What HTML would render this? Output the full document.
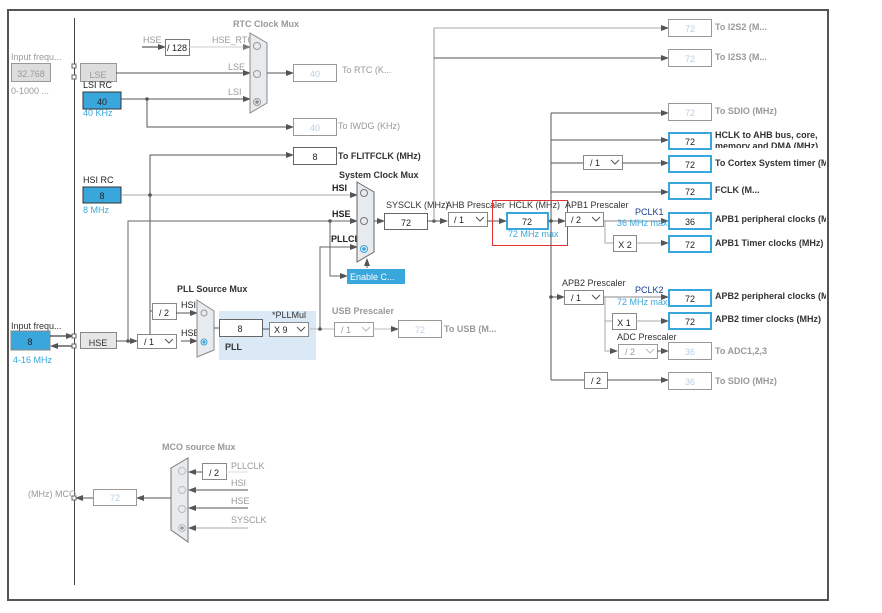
<!DOCTYPE html>
<html><head><meta charset="utf-8"><style>
html,body{margin:0;padding:0;background:#fff;}
svg{display:block;font-family:"Liberation Sans",sans-serif;}
.g{fill:#999;}
.dk{fill:#333;}
.b{fill:#222;}
.bl{fill:#3aa7dc;}
text{font-size:9px;}
</style></head><body>
<svg width="882" height="613" viewBox="0 0 882 613" xmlns="http://www.w3.org/2000/svg">
<defs>
<marker id="a" markerWidth="8" markerHeight="8" refX="7" refY="4" orient="auto" markerUnits="userSpaceOnUse"><path d="M0,1 L8,4 L0,7z" fill="#555"/></marker>
<marker id="al" markerWidth="8" markerHeight="8" refX="7" refY="4" orient="auto" markerUnits="userSpaceOnUse"><path d="M0,1 L8,4 L0,7z" fill="#777"/></marker>
<clipPath id="c"><rect x="0" y="0" width="826" height="613"/></clipPath>
</defs>
<rect x="0" y="0" width="882" height="613" fill="#fff"/>
<g clip-path="url(#c)">
<!-- left bus -->
<line x1="74.5" y1="18" x2="74.5" y2="585" stroke="#444" stroke-width="1"/>

<!-- LSE section -->
<text x="11" y="60" class="g">Input frequ...</text>
<rect x="11.5" y="63.5" width="39" height="18" fill="#ddd" stroke="#999"/>
<text x="31" y="77" class="g" text-anchor="middle" font-size="11">32.768</text>
<text x="11" y="94" class="g" font-size="8">0-1000 ...</text>
<rect x="72" y="64" width="4" height="4" fill="#fff" stroke="#666"/>
<rect x="72" y="75" width="4" height="4" fill="#fff" stroke="#666"/>
<rect x="80.5" y="63.5" width="36" height="18" fill="#ddd" stroke="#999"/>
<text x="98" y="78" class="g" text-anchor="middle" font-size="13">LSE</text>
<text x="83" y="88" class="b" font-size="10">LSI RC</text>
<rect x="83" y="92" width="38" height="17" fill="#3aa7dc" stroke="#333"/>
<text x="102" y="105" class="b" text-anchor="middle" font-size="11">40</text>
<text x="83" y="116" class="bl" font-size="9">40 KHz</text>

<!-- RTC -->
<text x="233" y="27" class="g" font-weight="bold">RTC Clock Mux</text>
<text x="143" y="43" class="g">HSE</text>
<line x1="142" y1="47" x2="165" y2="47" stroke="#333" marker-end="url(#a)"/>
<rect x="165.5" y="39.5" width="24" height="16" fill="#fff" stroke="#777"/>
<text x="177" y="51" class="b" text-anchor="middle" font-size="10">/ 128</text>
<text x="212" y="43" class="g">HSE_RTC</text>
<line x1="189" y1="47" x2="250" y2="47" stroke="#ccc" marker-end="url(#al)"/>
<text x="228" y="70" class="g">LSE</text>
<line x1="116" y1="73" x2="250" y2="73" stroke="#555" marker-end="url(#a)"/>
<text x="228" y="95" class="g">LSI</text>
<line x1="121" y1="99" x2="250" y2="99" stroke="#555" marker-end="url(#a)"/>
<circle cx="147" cy="99" r="1.8" fill="#555"/>
<polyline points="147,99 147,127 293,127" fill="none" stroke="#555" marker-end="url(#a)"/>
<polygon points="250,33 267,43 267,103 250,113" fill="#e8ebee" stroke="#888"/>
<circle cx="257" cy="46" r="3.5" fill="none" stroke="#999"/>
<circle cx="257" cy="74" r="3.5" fill="none" stroke="#999"/>
<circle cx="257" cy="102" r="3.5" fill="none" stroke="#999"/><circle cx="257" cy="102" r="1.8" fill="#888"/>
<line x1="267" y1="73" x2="293" y2="73" stroke="#555" marker-end="url(#a)"/>
<rect x="293.5" y="64.5" width="43" height="17" fill="#fff" stroke="#999"/>
<text x="315" y="77" fill="#b8cfe3" text-anchor="middle" font-size="11">40</text>
<text x="342" y="73" class="g">To RTC (K...</text>
<rect x="293.5" y="118.5" width="43" height="17" fill="#fff" stroke="#999"/>
<text x="315" y="131" fill="#b8cfe3" text-anchor="middle" font-size="11">40</text>
<text x="338" y="129" class="g">To IWDG (KHz)</text>

<!-- FLITF -->
<polyline points="150,345 150,155 293,155" fill="none" stroke="#555" marker-end="url(#a)"/>
<rect x="293.5" y="147.5" width="43" height="17" fill="#fff" stroke="#666"/>
<text x="315" y="160" class="b" text-anchor="middle" font-size="11">8</text>
<text x="338" y="159" class="dk" font-weight="bold">To FLITFCLK (MHz)</text>

<!-- HSI -->
<text x="83" y="183" class="b" font-size="10">HSI RC</text>
<rect x="83" y="187" width="38" height="16" fill="#3aa7dc" stroke="#333"/>
<text x="102" y="199" class="b" text-anchor="middle" font-size="11">8</text>
<text x="83" y="213" class="bl">8 MHz</text>
<line x1="121" y1="195" x2="357" y2="195" stroke="#aaa" marker-end="url(#a)"/>
<circle cx="150" cy="195" r="1.8" fill="#555"/>
<text x="332" y="191" class="b" font-weight="bold">HSI</text>

<!-- HSE line to sysmux -->
<polyline points="128,341 128,221 357,221" fill="none" stroke="#666" marker-end="url(#a)"/>
<circle cx="330" cy="221" r="1.8" fill="#555"/>
<text x="332" y="217" class="b" font-weight="bold">HSE</text>
<polyline points="320,329 320,247 357,247" fill="none" stroke="#666" marker-end="url(#a)"/>
<text x="331" y="242" class="b" font-weight="bold">PLLCLK</text>
<polyline points="330,221 330,276 347,276" fill="none" stroke="#666" marker-end="url(#a)"/>
<rect x="347" y="269" width="58" height="15" fill="#3aa7dc"/>
<text x="350" y="280" fill="#fff" font-size="10">Enable C...</text>
<line x1="367" y1="268" x2="367" y2="259" stroke="#666" marker-end="url(#a)"/>
<text x="339" y="178" class="dk" font-weight="bold">System Clock Mux</text>
<polygon points="357,182 374,192 374,252 357,262" fill="#e8ebee" stroke="#666"/>
<circle cx="364" cy="193" r="3.5" fill="none" stroke="#777"/>
<circle cx="364" cy="221" r="3.5" fill="none" stroke="#777"/>
<circle cx="364" cy="249" r="3.5" fill="none" stroke="#3aa7dc"/><circle cx="364" cy="249" r="1.8" fill="#3aa7dc"/>
<line x1="374" y1="221" x2="384" y2="221" stroke="#555" marker-end="url(#a)"/>
<text x="386" y="208" class="dk">SYSCLK (MHz)</text>
<rect x="384.5" y="213.5" width="43" height="16" fill="#fff" stroke="#666"/>
<text x="406" y="226" class="b" text-anchor="middle" font-size="11">72</text>

<!-- I2S -->
<line x1="427" y1="221" x2="447" y2="221" stroke="#555" marker-end="url(#a)"/>
<circle cx="434" cy="221" r="1.8" fill="#555"/>
<line x1="434" y1="221" x2="434" y2="28" stroke="#999"/>
<line x1="434" y1="28" x2="668" y2="28" stroke="#aaa" marker-end="url(#a)"/>
<line x1="434" y1="58" x2="668" y2="58" stroke="#555" marker-end="url(#a)"/>
<rect x="668.5" y="19.5" width="43" height="17" fill="#fff" stroke="#999"/>
<text x="690" y="32" fill="#b8cfe3" text-anchor="middle" font-size="11">72</text>
<text x="715" y="30" class="g" font-weight="bold">To I2S2 (M...</text>
<rect x="668.5" y="49.5" width="43" height="17" fill="#fff" stroke="#999"/>
<text x="690" y="62" fill="#b8cfe3" text-anchor="middle" font-size="11">72</text>
<text x="715" y="60" class="g" font-weight="bold">To I2S3 (M...</text>

<!-- AHB -->
<text x="446" y="208" class="dk">AHB Prescaler</text>
<rect x="448.5" y="212.5" width="39" height="14" fill="#fff" stroke="#888"/>
<text x="454" y="223" class="b" font-size="10">/ 1</text>
<polyline points="476,217 480,221 484,217" fill="none" stroke="#555"/>
<line x1="487" y1="221" x2="506" y2="221" stroke="#555" marker-end="url(#a)"/>
<text x="509" y="208" class="dk">HCLK (MHz)</text>
<rect x="507" y="213" width="41" height="16" fill="#fff" stroke="#3aa7dc" stroke-width="2"/>
<text x="527" y="225" class="b" text-anchor="middle" font-size="11">72</text>
<text x="508" y="237" class="bl">72 MHz max</text>
<rect x="492.5" y="200.5" width="75" height="45" fill="none" stroke="#e03030"/>

<!-- HCLK bus -->
<line x1="548" y1="221" x2="565" y2="221" stroke="#555" marker-end="url(#a)"/>
<circle cx="551" cy="221" r="1.8" fill="#555"/>
<line x1="551" y1="113" x2="551" y2="380" stroke="#555"/>
<line x1="551" y1="113" x2="668" y2="113" stroke="#555" marker-end="url(#a)"/>
<line x1="551" y1="140" x2="668" y2="140" stroke="#555" marker-end="url(#a)"/>
<line x1="551" y1="163" x2="583" y2="163" stroke="#555"/>
<rect x="583.5" y="155.5" width="39" height="14" fill="#fff" stroke="#888"/>
<text x="590" y="166" class="b" font-size="10">/ 1</text>
<polyline points="611,160 615,164 619,160" fill="none" stroke="#555"/>
<line x1="622" y1="163" x2="668" y2="163" stroke="#555" marker-end="url(#a)"/>
<line x1="551" y1="192" x2="668" y2="192" stroke="#555" marker-end="url(#a)"/>
<rect x="668.5" y="103.5" width="43" height="17" fill="#fff" stroke="#999"/>
<text x="690" y="116" fill="#b8cfe3" text-anchor="middle" font-size="11">72</text>
<text x="715" y="114" class="g" font-weight="bold">To SDIO (MHz)</text>
<rect x="669" y="133" width="42" height="16" fill="#fff" stroke="#3aa7dc" stroke-width="2"/>
<text x="690" y="145" class="b" text-anchor="middle" font-size="11">72</text>
<svg x="715" y="128" width="115" height="20" overflow="hidden"><text x="0" y="10" class="dk" font-weight="bold">HCLK to AHB bus, core,</text><text x="0" y="21" class="dk" font-weight="bold">memory and DMA (MHz)</text></svg>
<rect x="669" y="156" width="42" height="16" fill="#fff" stroke="#3aa7dc" stroke-width="2"/>
<text x="690" y="168" class="b" text-anchor="middle" font-size="11">72</text>
<text x="715" y="166" class="dk" font-weight="bold">To Cortex System timer (MHz)</text>
<rect x="669" y="183" width="42" height="16" fill="#fff" stroke="#3aa7dc" stroke-width="2"/>
<text x="690" y="195" class="b" text-anchor="middle" font-size="11">72</text>
<text x="715" y="193" class="dk" font-weight="bold">FCLK (M...</text>

<!-- APB1 -->
<text x="565" y="208" class="dk">APB1 Prescaler</text>
<rect x="565.5" y="212.5" width="38" height="14" fill="#fff" stroke="#888"/>
<text x="571" y="223" class="b" font-size="10">/ 2</text>
<polyline points="592,217 596,221 600,217" fill="none" stroke="#555"/>
<line x1="603" y1="221" x2="668" y2="221" stroke="#888" marker-end="url(#a)"/>
<text x="635" y="215" fill="#1a3d8f" font-size="9">PCLK1</text>
<text x="617" y="226" class="bl">36 MHz max</text>
<polyline points="605,221 605,243 613,243" fill="none" stroke="#aaa"/>
<rect x="613.5" y="235.5" width="23" height="16" fill="#fff" stroke="#888"/>
<text x="625" y="248" class="b" text-anchor="middle" font-size="10">X 2</text>
<line x1="636" y1="243" x2="668" y2="243" stroke="#aaa" marker-end="url(#a)"/>
<rect x="669" y="213" width="42" height="16" fill="#fff" stroke="#3aa7dc" stroke-width="2"/>
<text x="690" y="225" class="b" text-anchor="middle" font-size="11">36</text>
<text x="715" y="222" class="dk" font-weight="bold">APB1 peripheral clocks (MHz)</text>
<rect x="669" y="236" width="42" height="16" fill="#fff" stroke="#3aa7dc" stroke-width="2"/>
<text x="690" y="248" class="b" text-anchor="middle" font-size="11">72</text>
<text x="715" y="246" class="dk" font-weight="bold">APB1 Timer clocks (MHz)</text>

<!-- APB2 -->
<circle cx="551" cy="297" r="1.8" fill="#555"/>
<line x1="551" y1="297" x2="564" y2="297" stroke="#555" marker-end="url(#a)"/>
<text x="562" y="286" class="dk">APB2 Prescaler</text>
<rect x="564.5" y="290.5" width="39" height="14" fill="#fff" stroke="#888"/>
<text x="571" y="301" class="b" font-size="10">/ 1</text>
<polyline points="592,295 596,299 600,295" fill="none" stroke="#555"/>
<line x1="603" y1="297" x2="668" y2="297" stroke="#888" marker-end="url(#a)"/>
<text x="635" y="293" fill="#1a3d8f" font-size="9">PCLK2</text>
<text x="617" y="305" class="bl">72 MHz max</text>
<rect x="669" y="290" width="42" height="16" fill="#fff" stroke="#3aa7dc" stroke-width="2"/>
<text x="690" y="302" class="b" text-anchor="middle" font-size="11">72</text>
<text x="715" y="299" class="dk" font-weight="bold">APB2 peripheral clocks (MHz)</text>
<polyline points="605,297 605,351 617,351" fill="none" stroke="#aaa" marker-end="url(#a)"/>
<line x1="605" y1="321" x2="612" y2="321" stroke="#aaa"/>
<rect x="612.5" y="313.5" width="24" height="16" fill="#fff" stroke="#888"/>
<text x="624" y="326" class="b" text-anchor="middle" font-size="10">X 1</text>
<line x1="636" y1="321" x2="668" y2="321" stroke="#aaa" marker-end="url(#a)"/>
<rect x="669" y="313" width="42" height="16" fill="#fff" stroke="#3aa7dc" stroke-width="2"/>
<text x="690" y="325" class="b" text-anchor="middle" font-size="11">72</text>
<text x="715" y="322" class="dk" font-weight="bold">APB2 timer clocks (MHz)</text>
<text x="617" y="340" class="dk">ADC Prescaler</text>
<rect x="618.5" y="344.5" width="39" height="14" fill="#fff" stroke="#999"/>
<text x="625" y="355" class="g" font-size="10">/ 2</text>
<polyline points="646,349 650,353 654,349" fill="none" stroke="#bbb"/>
<line x1="657" y1="351" x2="668" y2="351" stroke="#555" marker-end="url(#a)"/>
<rect x="668.5" y="342.5" width="43" height="17" fill="#fff" stroke="#999"/>
<text x="690" y="355" fill="#b8cfe3" text-anchor="middle" font-size="11">36</text>
<text x="715" y="354" class="g" font-weight="bold">To ADC1,2,3</text>
<line x1="551" y1="380" x2="584" y2="380" stroke="#555"/>
<rect x="584.5" y="372.5" width="23" height="16" fill="#fff" stroke="#888"/>
<text x="596" y="384" class="b" text-anchor="middle" font-size="10">/ 2</text>
<line x1="607" y1="380" x2="668" y2="380" stroke="#555" marker-end="url(#a)"/>
<rect x="668.5" y="372.5" width="43" height="17" fill="#fff" stroke="#999"/>
<text x="690" y="385" fill="#b8cfe3" text-anchor="middle" font-size="11">36</text>
<text x="715" y="384" class="g" font-weight="bold">To SDIO (MHz)</text>

<!-- HSE input -->
<text x="11" y="329" class="dk">Input frequ...</text>
<rect x="11" y="331" width="39" height="19" fill="#3aa7dc" stroke="#888"/>
<text x="30" y="345" class="b" text-anchor="middle" font-size="11">8</text>
<text x="13" y="363" class="bl">4-16 MHz</text>
<line x1="50" y1="336" x2="73" y2="336" stroke="#111" marker-end="url(#a)"/>
<line x1="73" y1="346" x2="51" y2="346" stroke="#111" marker-end="url(#a)"/>
<rect x="72" y="334" width="4" height="4" fill="#fff" stroke="#666"/>
<rect x="72" y="344" width="4" height="4" fill="#fff" stroke="#666"/>
<rect x="80.5" y="332.5" width="36" height="16" fill="#e6e6e6" stroke="#888"/>
<text x="98" y="346" class="dk" text-anchor="middle" font-size="13">HSE</text>
<line x1="116" y1="341" x2="137" y2="341" stroke="#555" marker-end="url(#a)"/>
<circle cx="128" cy="341" r="1.8" fill="#555"/>
<rect x="137.5" y="334.5" width="39" height="14" fill="#fff" stroke="#888"/>
<text x="144" y="345" class="b" font-size="10">/ 1</text>
<polyline points="165,339 169,343 173,339" fill="none" stroke="#555"/>
<line x1="181" y1="341" x2="197" y2="341" stroke="#555" marker-end="url(#a)"/>
<polyline points="150,311 152,311" stroke="#555"/>
<rect x="152.5" y="303.5" width="24" height="16" fill="#fff" stroke="#888"/>
<text x="164" y="316" class="b" text-anchor="middle" font-size="10">/ 2</text>
<line x1="176" y1="313" x2="197" y2="313" stroke="#555" marker-end="url(#a)"/>
<text x="181" y="308" class="b">HSI</text>
<text x="181" y="336" class="b">HSE</text>
<text x="177" y="292" class="dk" font-weight="bold">PLL Source Mux</text>
<polygon points="197,300 214,311 214,350 197,357" fill="#e8ebee" stroke="#888"/>
<circle cx="204" cy="313" r="3" fill="none" stroke="#999"/>
<circle cx="204" cy="342" r="3" fill="none" stroke="#3aa7dc"/><circle cx="204" cy="342" r="1.6" fill="#3aa7dc"/>
<rect x="219" y="311" width="97" height="49" fill="#dbe8f5"/>
<line x1="214" y1="328" x2="219" y2="328" stroke="#555"/>
<rect x="219.5" y="319.5" width="43" height="17" fill="#fff" stroke="#666"/>
<text x="240" y="332" class="b" text-anchor="middle" font-size="11">8</text>
<text x="225" y="350" class="dk" font-weight="bold">PLL</text>
<text x="272" y="318" class="dk" font-size="8">*PLLMul</text>
<line x1="262" y1="329" x2="269" y2="329" stroke="#555"/>
<rect x="269.5" y="322.5" width="39" height="14" fill="#fff" stroke="#888"/>
<text x="274" y="333" class="b" font-size="10">X 9</text>
<polyline points="297,327 301,331 305,327" fill="none" stroke="#555"/>
<line x1="308" y1="329" x2="334" y2="329" stroke="#bbb"/>
<circle cx="320" cy="329" r="1.8" fill="#555"/>
<text x="332" y="314" class="g" font-weight="bold">USB Prescaler</text>
<rect x="334.5" y="322.5" width="39" height="14" fill="#fff" stroke="#999"/>
<text x="341" y="333" class="g" font-size="10">/ 1</text>
<polyline points="362,327 366,331 370,327" fill="none" stroke="#bbb"/>
<line x1="373" y1="329" x2="398" y2="329" stroke="#bbb" marker-end="url(#a)"/>
<rect x="398.5" y="320.5" width="43" height="17" fill="#fff" stroke="#999"/>
<text x="420" y="333" fill="#b8cfe3" text-anchor="middle" font-size="11">72</text>
<text x="444" y="332" class="g" font-weight="bold">To USB (M...</text>

<!-- MCO -->
<text x="162" y="450" class="g" font-weight="bold">MCO source Mux</text>
<polygon points="171,468 188,458 188,542 171,530" fill="#e8ebee" stroke="#777"/>
<circle cx="182" cy="471" r="3.5" fill="none" stroke="#bbb"/>
<circle cx="182" cy="490" r="3.5" fill="none" stroke="#bbb"/>
<circle cx="182" cy="509" r="3.5" fill="none" stroke="#bbb"/>
<circle cx="182" cy="528" r="3.5" fill="none" stroke="#bbb"/><circle cx="182" cy="528" r="1.8" fill="#999"/>
<rect x="202.5" y="463.5" width="24" height="16" fill="#fff" stroke="#888"/>
<text x="214" y="476" class="b" text-anchor="middle" font-size="10">/ 2</text>
<line x1="226" y1="472" x2="248" y2="472" stroke="#ddd"/>
<line x1="202" y1="472" x2="189" y2="472" stroke="#555" marker-end="url(#a)"/>
<line x1="248" y1="490" x2="189" y2="490" stroke="#555" marker-end="url(#a)"/>
<line x1="248" y1="508" x2="189" y2="508" stroke="#555" marker-end="url(#a)"/>
<line x1="248" y1="528" x2="189" y2="528" stroke="#aaa" marker-end="url(#a)"/>
<text x="231" y="469" class="g">PLLCLK</text>
<text x="231" y="486" class="g">HSI</text>
<text x="231" y="504" class="g">HSE</text>
<text x="231" y="523" class="g">SYSCLK</text>
<line x1="171" y1="498" x2="137" y2="498" stroke="#555" marker-end="url(#a)"/>
<rect x="93.5" y="489.5" width="43" height="16" fill="#fff" stroke="#999"/>
<text x="115" y="501" fill="#b8cfe3" text-anchor="middle" font-size="11">72</text>
<line x1="93" y1="498" x2="76" y2="498" stroke="#555" marker-end="url(#a)"/>
<rect x="72" y="496" width="4" height="4" fill="#fff" stroke="#666"/>
<text x="28" y="497" class="g" font-size="8">(MHz) MCO</text>
</g>
<!-- frame -->
<rect x="8" y="10" width="820" height="590" fill="none" stroke="#555" stroke-width="2"/>
</svg>
</body></html>
